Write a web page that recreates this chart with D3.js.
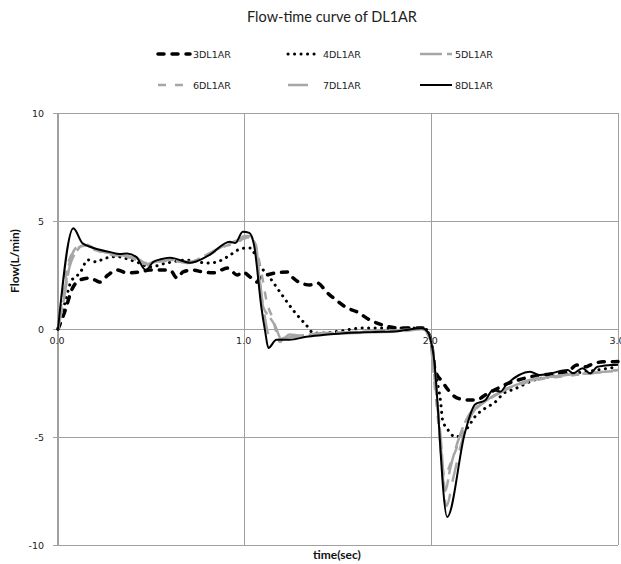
<!DOCTYPE html>
<html>
<head>
<meta charset="utf-8">
<script src="https://cdn.jsdelivr.net/npm/d3@7"></script>
<style>
  body { margin: 0; background: #fff; }
  svg { display: block; }
</style>
</head>
<body>
<svg id="chart" width="621" height="564"></svg>
<script>
// series names (legend order)
const seriesNames = ["3DL1AR", "4DL1AR", "5DL1AR", "6DL1AR", "7DL1AR", "8DL1AR"]

const time3 = [0, 0.04, 0.073, 0.118, 0.171, 0.225, 0.268, 0.316, 0.37, 0.44, 0.49, 0.546, 0.6, 0.638, 0.67, 0.72, 0.777, 0.83, 0.91, 0.96, 0.99, 1.03, 1.066, 1.08, 1.12, 1.17, 1.23, 1.26, 1.3, 1.35, 1.39, 1.44, 1.49, 1.55, 1.6, 1.67, 1.74, 1.82, 1.96, 1.98, 2.0, 2.02, 2.06, 2.09, 2.14, 2.2, 2.24, 2.29, 2.34, 2.39, 2.54, 2.73, 2.78, 2.83, 2.85, 2.92, 2.96, 3.0]
const flow3 = [0, 0.9, 1.8, 2.27, 2.36, 2.17, 2.5, 2.73, 2.6, 2.64, 2.73, 2.73, 2.73, 2.36, 2.64, 2.73, 2.64, 2.6, 2.82, 2.5, 2.64, 2.4, 2.17, 2.36, 2.5, 2.6, 2.64, 2.36, 2.13, 2.04, 2.13, 1.7, 1.34, 0.97, 0.8, 0.42, 0.18, 0.05, 0.05, -0.14, -0.6, -1.9, -2.45, -2.82, -3.2, -3.29, -3.29, -3.05, -2.82, -2.6, -2.2, -1.98, -1.67, -1.75, -1.67, -1.52, -1.52, -1.5]

const time4 = [0, 0.04, 0.07, 0.118, 0.16, 0.21, 0.24, 0.316, 0.386, 0.44, 0.49, 0.58, 0.69, 0.8, 0.85, 0.905, 0.975, 1.01, 1.03, 1.08, 1.136, 1.19, 1.26, 1.33, 1.37, 1.4, 1.51, 1.63, 1.82, 1.96, 1.98, 2.0, 2.02, 2.05, 2.06, 2.09, 2.13, 2.16, 2.2, 2.23, 2.29, 2.34, 2.39, 2.44, 2.54, 2.73, 2.85, 2.96, 3.0]
const flow4 = [0, 1.3, 2.2, 2.6, 3.2, 3.1, 3.24, 3.35, 3.2, 3.04, 2.87, 3.05, 3.19, 3.05, 3.1, 3.33, 3.7, 3.75, 3.75, 2.96, 2.36, 1.7, 0.87, 0.18, -0.19, -0.19, -0.1, 0.05, 0.05, 0.05, -0.1, -0.6, -1.9, -3.4, -4.2, -4.68, -5.0, -4.9, -4.5, -4.1, -3.66, -3.4, -2.96, -2.8, -2.4, -2.1, -1.95, -1.8, -1.75]

const time5 = [0, 0.03, 0.06, 0.1, 0.14, 0.2, 0.28, 0.35, 0.42, 0.47, 0.52, 0.6, 0.7, 0.8, 0.9, 0.96, 1.0, 1.03, 1.06, 1.08, 1.1, 1.13, 1.16, 1.2, 1.24, 1.3, 1.4, 1.55, 1.7, 1.85, 1.95, 1.99, 2.02, 2.05, 2.075, 2.1, 2.15, 2.2, 2.28, 2.36, 2.45, 2.55, 2.65, 2.75, 2.85, 2.95, 3.0]
const flow5 = [0, 1.3, 2.8, 3.6, 3.9, 3.7, 3.5, 3.4, 3.3, 3.05, 3.1, 3.2, 3.1, 3.45, 3.9, 4.1, 4.25, 4.2, 3.9, 2.2, 1.0, 0.6, 0.2, -0.5, -0.25, -0.3, -0.2, -0.15, -0.1, -0.05, 0.0, -0.3, -2.5, -5.0, -7.5, -6.5, -5.0, -4.0, -3.4, -2.95, -2.6, -2.35, -2.2, -2.1, -2.05, -1.95, -1.9]

const time6 = [0, 0.03, 0.06, 0.1, 0.14, 0.2, 0.28, 0.35, 0.42, 0.47, 0.52, 0.6, 0.7, 0.8, 0.9, 0.96, 1.0, 1.03, 1.06, 1.09, 1.12, 1.15, 1.19, 1.22, 1.26, 1.32, 1.45, 1.6, 1.8, 1.95, 1.99, 2.02, 2.04, 2.07, 2.1, 2.14, 2.18, 2.23, 2.3, 2.4, 2.5, 2.6, 2.7, 2.8, 2.9, 3.0]
const flow6 = [0, 1.8, 3.2, 3.7, 3.85, 3.65, 3.45, 3.35, 3.25, 3.0, 3.1, 3.15, 3.1, 3.4, 3.85, 4.0, 4.2, 4.2, 3.8, 2.6, 1.2, 0.5, -0.6, -0.3, -0.35, -0.3, -0.2, -0.15, -0.1, 0, -0.4, -2.8, -4.5, -6.8, -6.3, -5.4, -4.5, -3.8, -3.3, -2.8, -2.5, -2.3, -2.2, -2.1, -2.0, -1.95]

const time7 = [0, 0.03, 0.06, 0.1, 0.14, 0.2, 0.28, 0.35, 0.42, 0.47, 0.52, 0.6, 0.7, 0.8, 0.9, 0.96, 1.0, 1.03, 1.06, 1.1, 1.13, 1.17, 1.22, 1.3, 1.4, 1.55, 1.7, 1.85, 1.95, 1.99, 2.02, 2.05, 2.08, 2.12, 2.17, 2.22, 2.3, 2.38, 2.45, 2.55, 2.65, 2.75, 2.85, 2.95, 3.0]
const flow7 = [0, 1.5, 3.0, 3.8, 3.95, 3.7, 3.5, 3.4, 3.2, 2.95, 3.15, 3.2, 3.05, 3.45, 3.9, 4.05, 4.3, 4.3, 3.6, 1.0, -0.3, -0.5, -0.4, -0.35, -0.25, -0.2, -0.15, -0.1, 0.0, -0.3, -2.0, -5.5, -8.2, -6.8, -5.0, -3.9, -3.3, -2.9, -2.6, -2.3, -2.2, -2.1, -2.05, -1.95, -1.9]

const time8 = [0, 0.082, 0.13, 0.19, 0.28, 0.33, 0.37, 0.42, 0.47, 0.51, 0.55, 0.6, 0.71, 0.81, 0.92, 0.95, 0.99, 1.025, 1.05, 1.09, 1.11, 1.127, 1.17, 1.24, 1.33, 1.42, 1.55, 1.7, 1.82, 1.95, 1.98, 2.01, 2.085, 2.18, 2.234, 2.29, 2.33, 2.37, 2.40, 2.47, 2.53, 2.58, 2.64, 2.73, 2.76, 2.81, 2.85, 2.89, 2.96, 3.0]
const flow8 = [0, 4.66, 3.98, 3.75, 3.56, 3.47, 3.5, 3.33, 2.73, 3.1, 3.23, 3.3, 3.07, 3.42, 4.04, 3.98, 4.5, 4.45, 3.9, 0.97, -0.12, -0.88, -0.5, -0.5, -0.36, -0.28, -0.18, -0.14, -0.1, 0.03, -0.13, -1.1, -8.7, -4.8, -3.5, -3.29, -2.82, -2.9, -2.6, -2.13, -1.98, -2.13, -2.05, -1.9, -2.05, -1.82, -2.05, -1.75, -1.67, -1.65]

const xTicks = [0, 1, 2, 3]
const yTicks = [-10, -5, 0, 5, 10]

const allTimes = [time3, time4, time5, time6, time7, time8]
const allFlows = [flow3, flow4, flow5, flow6, flow7, flow8]

// line styles per series
const styles = [
    {color: "#000", width: 3.5, dash: "6,8", cap: "round"},
    {color: "#000", width: 3, dash: "0.1,6.4", cap: "round"},
    {color: "#a6a6a6", width: 2.5, dash: "22,5", cap: "butt"},
    {color: "#a6a6a6", width: 2.5, dash: "8,9", cap: "butt"},
    {color: "#a6a6a6", width: 2.5, dash: "20,12", cap: "butt"},
    {color: "#000", width: 2, dash: null, cap: "butt"}
]

var svg = d3.select("#chart")

var x = d3.scaleLinear().domain([0, 3]).range([58, 618])
var y = d3.scaleLinear().domain([-10, 10]).range([545, 113])

const grid = "#a0a0a0"

// title
svg.append("text")
    .attr("x", 332).attr("y", 22)
    .attr("text-anchor", "middle")
    .style("font-family", "Lato, 'Open Sans', sans-serif")
    .style("font-size", "14.5px")
    .attr("fill", "#222")
    .text("Flow-time curve of DL1AR")

// legend
const legendX = [158, 288, 420]
const legendY = [54, 85]
seriesNames.forEach((name, i) => {
    let lx = legendX[i % 3], ly = legendY[Math.floor(i / 3)]
    let s = styles[i]
    svg.append("line")
        .attr("x1", lx).attr("x2", lx + 32)
        .attr("y1", ly).attr("y2", ly)
        .attr("stroke", s.color)
        .attr("stroke-width", s.width)
        .attr("stroke-dasharray", s.dash)
        .attr("stroke-linecap", s.cap)
    svg.append("text")
        .attr("x", lx + 35).attr("y", ly + 3.5)
        .style("font-family", "'DejaVu Sans', sans-serif")
        .style("font-size", "9.5px")
        .attr("fill", "#222")
        .text(name)
})

// horizontal gridlines + border
svg.selectAll(".hgrid").data(yTicks).enter().append("line")
    .attr("x1", 53).attr("x2", 618)
    .attr("y1", d => y(d)).attr("y2", d => y(d))
    .attr("stroke", grid).attr("stroke-width", 1)
    .attr("shape-rendering", "crispEdges")

svg.selectAll(".vgrid").data(xTicks).enter().append("line")
    .attr("x1", d => x(d)).attr("x2", d => x(d))
    .attr("y1", y(10)).attr("y2", y(-10))
    .attr("stroke", grid).attr("stroke-width", d => d === 0 ? 1.5 : 1)
    .attr("shape-rendering", "crispEdges")

// y tick labels
svg.selectAll(".ylab").data(yTicks).enter().append("text")
    .attr("x", 44).attr("y", d => y(d) + 3.5)
    .attr("text-anchor", "end")
    .style("font-family", "'DejaVu Sans', sans-serif")
    .style("font-size", "9.5px")
    .attr("fill", "#222")
    .text(d => d)

// x tick labels (sit under the zero line, behind curves)
svg.selectAll(".xlab").data(xTicks).enter().append("text")
    .attr("x", d => x(d) - 1).attr("y", y(0) + 15)
    .attr("text-anchor", "middle")
    .style("font-family", "'DejaVu Sans', sans-serif")
    .style("font-size", "9.5px")
    .attr("fill", "#222")
    .text(d => d.toFixed(1))

// axis titles
svg.append("text")
    .attr("transform", "translate(19,261) rotate(-90)")
    .attr("text-anchor", "middle")
    .style("font-family", "Lato, sans-serif")
    .style("font-weight", "bold")
    .style("font-size", "12px")
    .attr("fill", "#111")
    .text("Flow(L/min)")

svg.append("text")
    .attr("x", 337).attr("y", 559)
    .attr("text-anchor", "middle")
    .style("font-family", "Lato, sans-serif")
    .style("font-weight", "bold")
    .style("font-size", "12px")
    .attr("fill", "#111")
    .text("time(sec)")

// curves
var line = d3.line()
    .x(d => x(d[0]))
    .y(d => y(d[1]))
    .curve(d3.curveMonotoneX)

allTimes.forEach((times, i) => {
    let pts = times.map((t, j) => [t, allFlows[i][j]])
    let s = styles[i]
    svg.append("path")
        .datum(pts)
        .attr("d", line)
        .attr("fill", "none")
        .attr("stroke", s.color)
        .attr("stroke-width", s.width)
        .attr("stroke-dasharray", s.dash)
        .attr("stroke-linecap", s.cap)
        .attr("stroke-linejoin", "round")
})
</script>
</body>
</html>
